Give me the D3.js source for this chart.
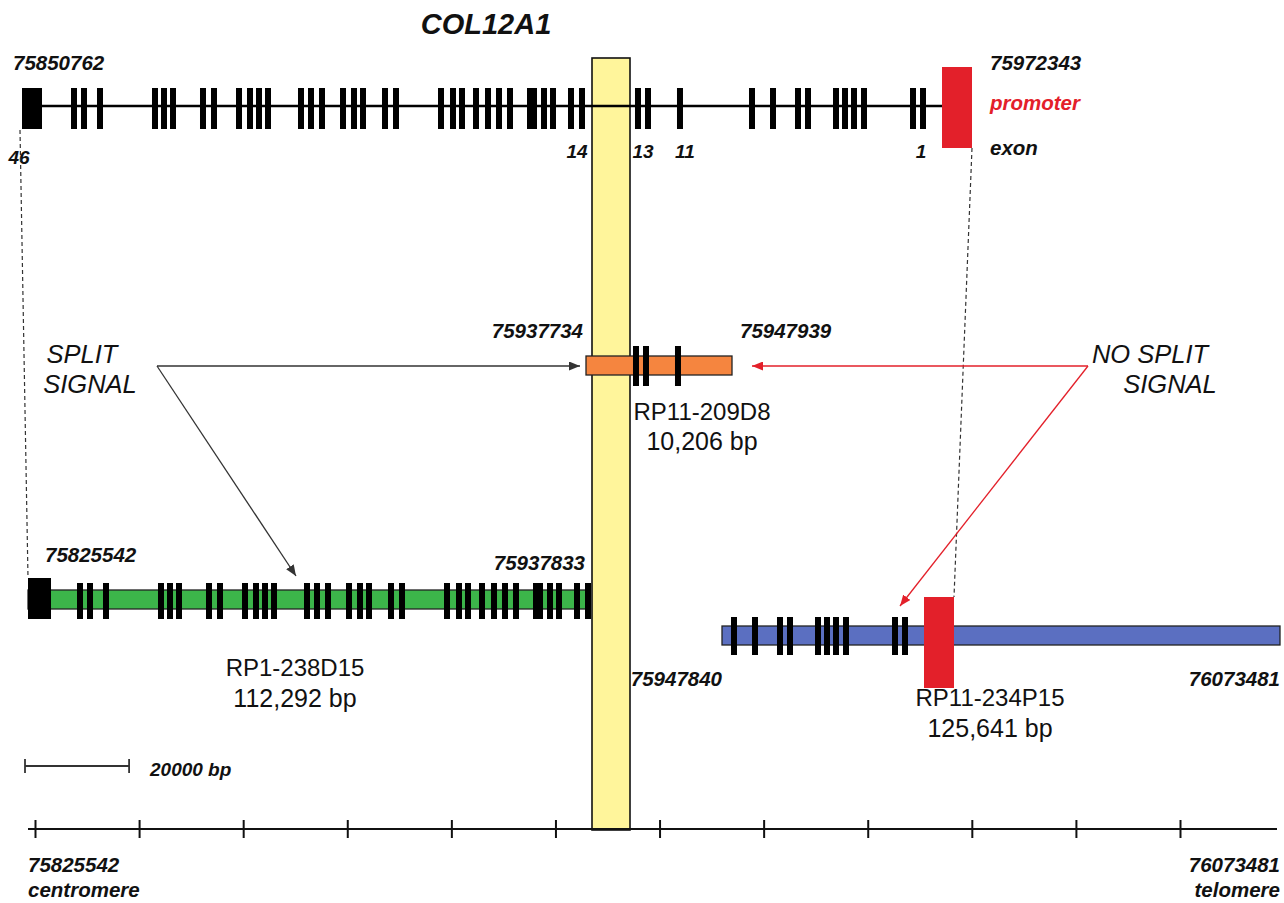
<!DOCTYPE html>
<html><head><meta charset="utf-8">
<script src="https://cdn.jsdelivr.net/npm/d3@7"></script>
<style>body{margin:0;background:#fff}svg{display:block}</style>
</head><body>
<svg id="c" width="1284" height="903"></svg>
<script>
// ---------------- DATA ----------------
const geneName = "COL12A1";
const geneStart = 75850762, geneEnd = 75972343;
// exon 46 (large, left) and promoter exon (right)
const exon46Span = [75850762, 75853322];
const promoterSpan = [75968504, 75972343];
// exons 45 .. 1, midpoints (bp) and lengths (bp) as read from the schematic
const exonIds = [45,44,43,42,41,40,39,38,37,36,35,34,33,32,31,30,29,28,27,26,25,24,23,22,21,20,19,18,17,16,15,14,13,12,11,10,9,8,7,6,5,4,3,2,1];
const exonMid = [75857417,75858697,75860744,75867783,75868935,75870087,75873926,75875334,75878534,75879941,
  75881093,75882245,75886468,75887748,75889156,75891844,75893251,75894403,75897219,75898627,
  75904386,75905921,75907073,75908865,75910401,75911808,75913216,75916032,75917568,75918719,
  75921023,75922431,75929596,75930877,75934971,75944187,75946875,75950074,75951354,75954938,
  75956090,75957241,75958521,75964792,75966072];
const exonLen = [768,768,768,768,768,768,768,768,768,768,768,768,768,768,768,768,768,768,768,768,
  768,768,768,768,768,768,768,1280,768,768,768,768,768,768,768,768,768,768,768,768,768,768,768,768,768];
const labelledExons = [46,14,13,11,1];

const cloneNames = ["RP11-209D8","RP1-238D15","RP11-234P15"];
const cloneStarts = [75937734, 75825542, 75947840];
const cloneEnds = [75947939, 75937833, 76073481];
const cloneSizes = ["10,206 bp","112,292 bp","125,641 bp"];
const cloneSignal = ["split","split","no split"];

const breakRegion = [75937833, 75947840];
const regionStart = 75825542, regionEnd = 76073481;
const tickStep = 20000, nTicks = 12;
const scaleBarBp = 20000;

// ---------------- LAYOUT ----------------
const svg = d3.select("#c");
const FN = "'Liberation Sans', Arial, sans-serif";
const BLACK = "#111";
const RED = "#e3202a";
const NUM_SIZE = 20.5;

const xGene = d3.scaleLinear().domain([geneStart, geneEnd]).range([22, 972]);
const rowLayouts = [
  {shift:-2, L:586, R:732, yTop:356, yBot:375, exTop:346, exBot:386, fill:"#f5853f"},
  {shift:6,  L:28,  R:590, yTop:590, yBot:609, exTop:583, exBot:619, fill:"#3cb54a"},
  {shift:-18,L:722, R:1280,yTop:626, yBot:645, exTop:617, exBot:655, fill:"#5b6fc1"}
];

const defs = svg.append("defs");
function marker(id, color){
  defs.append("marker").attr("id", id).attr("markerUnits","userSpaceOnUse")
    .attr("markerWidth",12).attr("markerHeight",9).attr("refX",11).attr("refY",4.5)
    .attr("orient","auto")
    .append("path").attr("d","M0,0 L11,4.5 L0,9 Z").attr("fill", color);
}
marker("arrB", "#333");
marker("arrR", RED);

// breakpoint band (drawn first, under other marks)
const xBand = d3.scaleLinear().domain(breakRegion).range([592, 630]);
svg.append("rect").attr("x", xBand(breakRegion[0])).attr("y", 58)
  .attr("width", xBand(breakRegion[1]) - xBand(breakRegion[0])).attr("height", 772)
  .attr("fill", "#fff59b").attr("stroke", "#111").attr("stroke-width", 1.6);

// ---------- gene row ----------
const gTop = svg.append("g");
gTop.append("line").attr("x1", xGene(exon46Span[1])).attr("x2", xGene(promoterSpan[0]))
  .attr("y1", 106).attr("y2", 106).attr("stroke", "#000").attr("stroke-width", 2.5);
gTop.append("rect").attr("x", xGene(exon46Span[0])).attr("y", 88)
  .attr("width", xGene(exon46Span[1]) - xGene(exon46Span[0])).attr("height", 41).attr("fill", "#000");
const exons = exonIds.map((id, i) => ({id, mid: exonMid[i], len: exonLen[i]}));
gTop.selectAll("rect.ex").data(exons).join("rect").attr("class","ex")
  .attr("x", d => xGene(d.mid - d.len/2)).attr("y", 88)
  .attr("width", d => xGene(d.mid + d.len/2) - xGene(d.mid - d.len/2)).attr("height", 41)
  .attr("fill", "#000");
gTop.append("rect").attr("x", xGene(promoterSpan[0])).attr("y", 67)
  .attr("width", xGene(promoterSpan[1]) - xGene(promoterSpan[0])).attr("height", 81).attr("fill", RED);

// exon number labels
labelledExons.forEach(id => {
  let x, y = 158;
  if (id === 46) { x = xGene(exon46Span[0]) - 3; y = 164; }
  else { const e = exons.find(d => d.id === id); x = xGene(e.mid) + (id === 14 ? -5 : id === 13 ? 5 : id === 11 ? 5 : -2); }
  svg.append("text").attr("x", x).attr("y", y).attr("text-anchor","middle")
    .attr("font-family", FN).attr("font-style","italic").attr("font-weight","bold")
    .attr("font-size", 19).attr("fill", BLACK).text(id);
});

function numText(x, y, s, anchor, extra){
  const t = svg.append("text").attr("x", x).attr("y", y).attr("text-anchor", anchor || "start")
    .attr("font-family", FN).attr("font-style","italic").attr("font-weight","bold")
    .attr("font-size", NUM_SIZE).attr("fill", BLACK).text(s);
  if (extra) extra(t);
  return t;
}
numText(13, 70, geneStart);
numText(990, 70, geneEnd);
numText(990, 110, "promoter", "start", t => t.attr("fill", RED));
numText(990, 155, "exon");

svg.append("text").attr("x", 486).attr("y", 34).attr("text-anchor","middle")
  .attr("font-family", FN).attr("font-style","italic").attr("font-weight","bold").attr("font-size", 29)
  .attr("fill", BLACK).text(geneName);

// ---------- clone rows ----------
cloneNames.forEach((name, i) => {
  const lay = rowLayouts[i];
  const xc = d3.scaleLinear().domain([cloneStarts[i], cloneEnds[i]]).range([lay.L, lay.R]);
  const xr = xGene.copy().range(xGene.range().map(v => v + lay.shift));
  const g = svg.append("g");
  g.append("rect").attr("x", xc(cloneStarts[i])).attr("y", lay.yTop)
    .attr("width", xc(cloneEnds[i]) - xc(cloneStarts[i])).attr("height", lay.yBot - lay.yTop)
    .attr("fill", lay.fill).attr("stroke", "#222").attr("stroke-width", 1.3);
  const inside = exons.filter(d => xr(d.mid) > lay.L + 2 && xr(d.mid) < lay.R);
  g.selectAll("rect.ex").data(inside).join("rect").attr("class","ex")
    .attr("x", d => xr(d.mid - d.len/2)).attr("y", lay.exTop)
    .attr("width", d => xr(d.mid + d.len/2) - xr(d.mid - d.len/2)).attr("height", lay.exBot - lay.exTop)
    .attr("fill", "#000");
  if (xr(exon46Span[0]) >= lay.L - 1 && xr(exon46Span[0]) < lay.R) {
    g.append("rect").attr("x", xr(exon46Span[0])).attr("y", lay.exTop - 5)
      .attr("width", xr(exon46Span[1]) - xr(exon46Span[0]) + 3).attr("height", lay.exBot - lay.exTop + 5)
      .attr("fill", "#000");
  }
  if (xr(promoterSpan[0]) > lay.L && xr(promoterSpan[1]) < lay.R) {
    g.append("rect").attr("x", xr(promoterSpan[0])).attr("y", 597)
      .attr("width", xr(promoterSpan[1]) - xr(promoterSpan[0])).attr("height", 91).attr("fill", RED);
  }
  lay.xc = xc; lay.xr = xr;
});

// clone coordinate labels
const [lo, lg, lb] = rowLayouts;
numText(lo.xc(cloneStarts[0]) - 3, 338, cloneStarts[0], "end");
numText(740, 338, cloneEnds[0]);
numText(45, 562, cloneStarts[1]);
numText(lg.xc(cloneEnds[1]) - 5, 570, cloneEnds[1], "end");
numText(lb.xc(cloneStarts[2]), 686, cloneStarts[2], "end");
numText(lb.xc(cloneEnds[2]), 686, cloneEnds[2], "end");

// clone names and sizes
const nameAt = [[702, 420, 450], [295, 676, 707], [990, 706, 737]];
cloneNames.forEach((name, i) => {
  const [x, y1, y2] = nameAt[i];
  svg.append("text").attr("x", x).attr("y", y1).attr("text-anchor","middle")
    .attr("font-family", FN).attr("font-size", 24).attr("fill", BLACK).text(name);
  svg.append("text").attr("x", x).attr("y", y2).attr("text-anchor","middle")
    .attr("font-family", FN).attr("font-size", 25).attr("fill", BLACK).text(cloneSizes[i]);
});

// dashed connectors
svg.append("line").attr("x1", xGene(exon46Span[0]) - 2).attr("y1", 130)
  .attr("x2", lg.xc(cloneStarts[1])).attr("y2", 578)
  .attr("stroke", "#333").attr("stroke-width", 1.2).attr("stroke-dasharray", "4,3");
svg.append("line").attr("x1", xGene(promoterSpan[1])).attr("y1", 148)
  .attr("x2", lb.xr(promoterSpan[1])).attr("y2", 597)
  .attr("stroke", "#333").attr("stroke-width", 1.2).attr("stroke-dasharray", "4,3");

// signal annotations
function sigText(x, y, s, anchor){
  svg.append("text").attr("x", x).attr("y", y).attr("text-anchor", anchor)
    .attr("font-family", FN).attr("font-style","italic").attr("font-size", 25.5)
    .attr("fill", BLACK).text(s);
}
sigText(82, 363, "SPLIT", "middle");
sigText(90, 393, "SIGNAL", "middle");
sigText(1150, 363, "NO SPLIT", "middle");
sigText(1170, 393, "SIGNAL", "middle");

function arrow(x1, y1, x2, y2, color, mk){
  svg.append("line").attr("x1", x1).attr("y1", y1).attr("x2", x2).attr("y2", y2)
    .attr("stroke", color).attr("stroke-width", 1.3).attr("marker-end", `url(#${mk})`);
}
arrow(157, 366, lo.xc(cloneStarts[0]) - 6, 366, "#333", "arrB");
arrow(157, 366, 296, 576, "#333", "arrB");
arrow(1088, 366, lo.xc(cloneEnds[0]) + 20, 366, RED, "arrR");
arrow(1088, 366, 900, 606, RED, "arrR");

// ---------- bottom ruler ----------
const xAxis = d3.scaleLinear().domain([regionStart, regionStart + tickStep * (nTicks - 1)]).range([35, 1180]);
const tickVals = d3.range(nTicks).map(i => regionStart + i * tickStep);
const axisG = svg.append("g").attr("transform", "translate(0,829)")
  .call(d3.axisBottom(xAxis).tickValues(tickVals).tickSize(0).tickFormat(""));
axisG.select(".domain").remove();
axisG.selectAll(".tick line").attr("y1", -9).attr("y2", 9).attr("stroke", "#111").attr("stroke-width", 2);
svg.append("line").attr("x1", 28).attr("x2", 1277).attr("y1", 829).attr("y2", 829)
  .attr("stroke", "#111").attr("stroke-width", 2.2);
numText(28, 872, regionStart);
numText(28, 897, "centromere");
numText(1280, 872, regionEnd, "end");
numText(1280, 897, "telomere", "end");

// scale bar
const sbLen = xAxis(regionStart + scaleBarBp) - xAxis(regionStart);
svg.append("line").attr("x1", 25).attr("x2", 25 + sbLen).attr("y1", 766).attr("y2", 766)
  .attr("stroke", "#333").attr("stroke-width", 1.8);
[25, 25 + sbLen].forEach(x => svg.append("line").attr("x1", x).attr("x2", x)
  .attr("y1", 759).attr("y2", 773).attr("stroke", "#333").attr("stroke-width", 1.8));
numText(150, 776, scaleBarBp + " bp", "start", t => t.attr("font-size", 19));
</script>
</body></html>
